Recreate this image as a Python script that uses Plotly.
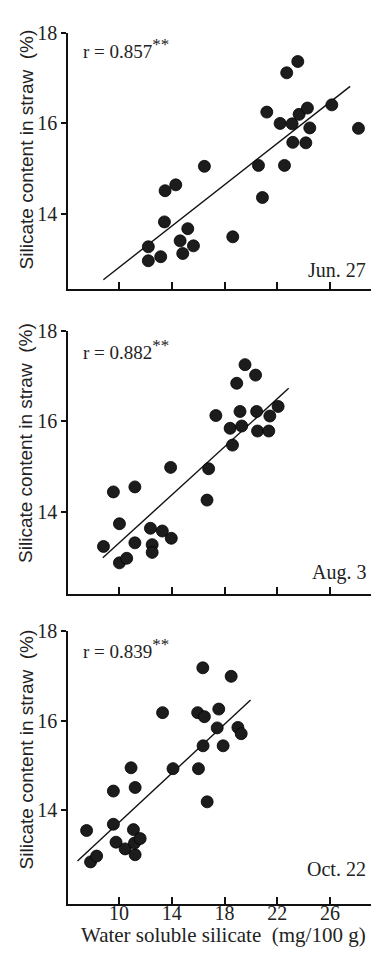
import plotly.graph_objects as go

W, H = 371, 953

# ---- data ----
jun_x = [12.22, 12.22, 13.16, 13.49, 14.30, 13.44, 14.63, 15.21, 14.83, 15.64, 16.47, 18.62,
         20.57, 20.87, 21.20, 22.21, 22.54, 22.71, 23.12, 23.17, 23.55, 23.65, 24.28, 24.46,
         24.16, 26.13, 28.15]
jun_y = [13.27, 12.96, 13.05, 14.51, 14.64, 13.82, 13.40, 13.67, 13.12, 13.29, 15.05, 13.49,
         15.07, 14.36, 16.25, 16.00, 15.07, 17.12, 15.99, 15.58, 17.37, 16.20, 16.34, 15.90,
         15.57, 16.41, 15.89]
jun_fit_x = [8.81, 27.52]
jun_fit_y = [12.54, 16.82]

aug_x = [8.82, 9.57, 10.03, 10.03, 10.58, 11.20, 11.20, 12.38, 12.51, 12.51, 13.28, 13.96,
         13.91, 16.67, 16.79, 17.34, 18.42, 18.60, 18.92, 19.17, 19.30, 19.55, 20.43, 20.50,
         20.35, 21.35, 21.43, 22.06]
aug_y = [13.25, 14.45, 13.75, 12.89, 12.99, 14.56, 13.33, 13.65, 13.29, 13.12, 13.59, 13.43,
         14.99, 14.27, 14.96, 16.13, 15.85, 15.48, 16.84, 16.22, 15.90, 17.25, 16.22, 15.79,
         17.02, 15.79, 16.12, 16.33]
aug_fit_x = [8.77, 22.86]
aug_fit_y = [13.00, 16.73]

oct_x = [7.54, 7.84, 8.30, 9.57, 9.57, 9.77, 10.46, 10.91, 11.22, 11.09, 11.22, 11.17, 11.60,
         13.30, 14.09, 15.96, 16.47, 16.02, 16.35, 16.37, 16.68, 17.56, 17.44, 17.89, 18.50,
         19.01, 19.26]
oct_y = [13.55, 12.85, 12.98, 14.43, 13.69, 13.29, 13.14, 14.95, 14.51, 13.57, 13.01, 13.27,
         13.37, 16.18, 14.93, 16.18, 16.09, 14.93, 17.18, 15.44, 14.19, 16.26, 15.84, 15.44,
         16.99, 15.85, 15.71]
oct_fit_x = [6.85, 19.97]
oct_fit_y = [12.87, 16.46]

STAR = "<sup><span style='font-size:17px'>**</span></sup>"
r_labels = ["r = 0.857" + STAR, "r = 0.882" + STAR, "r = 0.839" + STAR]
date_labels = ["Jun. 27", "Aug. 3", "Oct. 22"]
x_ticks = [10, 14, 18, 22, 26]
y_ticks = [14, 16, 18]
y_title = "Silicate content in straw\u00a0 (%)"
x_title = "Water soluble silicate\u00a0 (mg/100 g)"

panels = [
    (jun_x, jun_y, jun_fit_x, jun_fit_y, (22.3, 281), (12.34, 18)),
    (aug_x, aug_y, aug_fit_x, aug_fit_y, (323.3, 590), (12.2, 18)),
    (oct_x, oct_y, oct_fit_x, oct_fit_y, (627.3, 903), (11.92, 18)),
]
ytitle_centers = [140, 437, 747]
r_y = [38, 342, 645]
date_y = [262, 568, 868]

SERIF = "Liberation Serif, Times New Roman, serif"
SANS = "Liberation Sans, Arial, sans-serif"


def py(p):
    return 1 - p / H


fig = go.Figure()
annotations = []
layout = {}
for i, (xs, ys, fx, fy, (top, bot), yr) in enumerate(panels):
    n = i + 1
    xa = "x" if n == 1 else f"x{n}"
    ya = "y" if n == 1 else f"y{n}"
    fig.add_trace(go.Scatter(x=fx, y=fy, mode="lines", xaxis=xa, yaxis=ya,
                             line=dict(color="#111", width=1.4), showlegend=False,
                             hoverinfo="skip"))
    fig.add_trace(go.Scatter(x=xs, y=ys, mode="markers", xaxis=xa, yaxis=ya,
                             marker=dict(size=12, color="#1c1c1c",
                                         line=dict(color="#000", width=0.8)),
                             showlegend=False))
    xkey = "xaxis" if n == 1 else f"xaxis{n}"
    ykey = "yaxis" if n == 1 else f"yaxis{n}"
    layout[xkey] = dict(domain=[68 / W, 1.0], range=[6.13, 29.1], anchor=ya,
                        showline=True, linecolor="#111", linewidth=1.6,
                        showgrid=False, zeroline=False,
                        tickvals=x_ticks, ticks="inside", ticklen=7, tickwidth=1.6,
                        tickcolor="#111", showticklabels=(n == 3),
                        ticklabelstandoff=-9,
                        tickfont=dict(family=SERIF, size=20, color="#222"))
    layout[ykey] = dict(domain=[py(bot), py(top)], range=list(yr), anchor=xa,
                        showline=True, linecolor="#111", linewidth=1.6,
                        showgrid=False, zeroline=False,
                        tickvals=y_ticks, ticks="outside", ticklen=5, tickwidth=1.6,
                        tickcolor="#111",
                        tickfont=dict(family=SERIF, size=20, color="#222"))
    annotations.append(dict(text=y_title, textangle=-90, xref="paper", yref="paper",
                            x=26 / W, y=py(ytitle_centers[i]), showarrow=False,
                            xanchor="center", yanchor="middle",
                            font=dict(family=SANS, size=19, color="#222")))
    annotations.append(dict(text=r_labels[i], xref="paper", yref="paper",
                            x=81 / W, y=py(r_y[i]), showarrow=False,
                            xanchor="left", yanchor="middle",
                            font=dict(family=SERIF, size=19, color="#222")))
    annotations.append(dict(text=date_labels[i], xref="paper", yref="paper",
                            x=368 / W, y=py(date_y[i]), showarrow=False,
                            xanchor="right", yanchor="middle",
                            font=dict(family=SERIF, size=20, color="#222")))

annotations.append(dict(text=x_title, xref="paper", yref="paper",
                        x=223 / W, y=py(935), showarrow=False,
                        xanchor="center", yanchor="middle",
                        font=dict(family=SERIF, size=21, color="#222")))

fig.update_layout(width=W, height=H, margin=dict(l=0, r=0, t=0, b=0),
                  paper_bgcolor="white", plot_bgcolor="white",
                  annotations=annotations, **layout)
fig.write_html("out.html", config={"displayModeBar": False},
               post_script="document.body.style.margin='0';document.body.style.overflow='hidden';")
